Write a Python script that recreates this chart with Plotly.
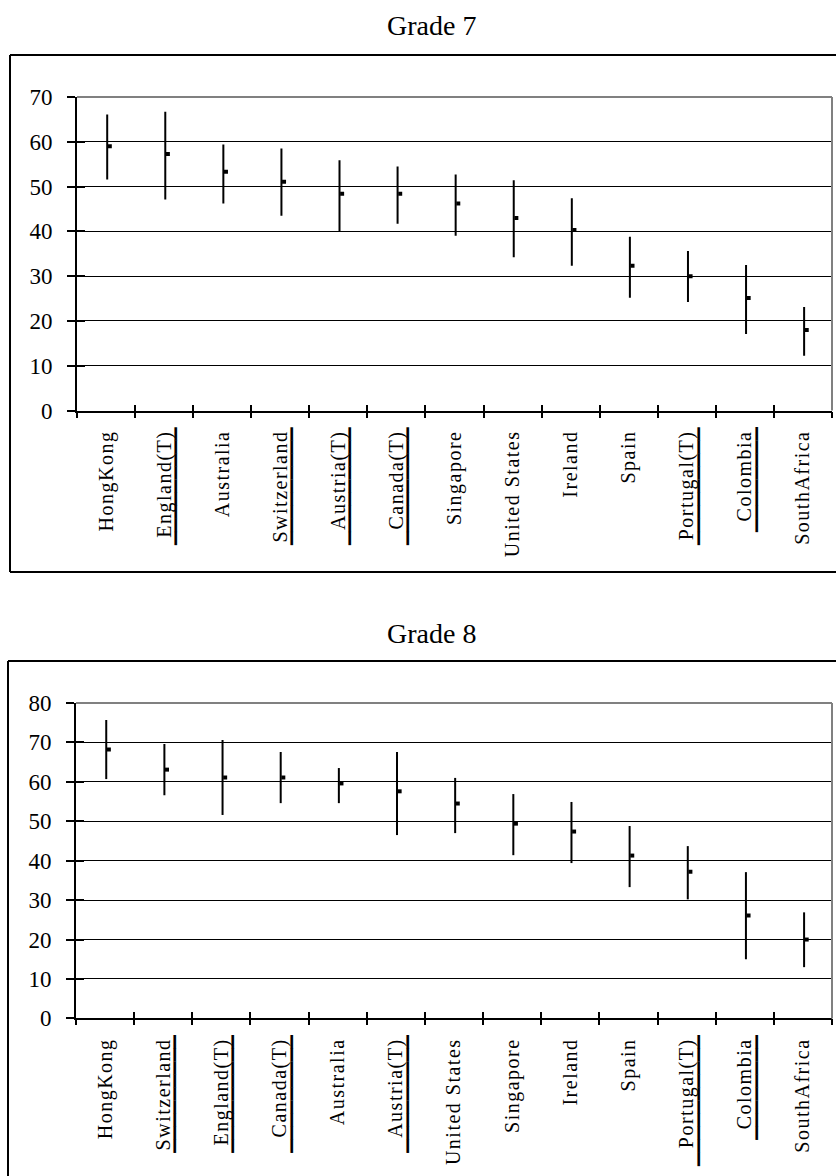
import plotly.graph_objects as go

# ---------------- data ----------------
g7_countries = ["HongKong", "England(T)", "Australia", "Switzerland", "Austria(T)", "Canada(T)",
                "Singapore", "United States", "Ireland", "Spain", "Portugal(T)", "Colombia", "SouthAfrica"]
g7_mean = [59.0, 57.3, 53.3, 51.1, 48.4, 48.4, 46.2, 43.0, 40.3, 32.3, 30.0, 25.1, 18.0]
g7_low = [51.6, 47.1, 46.2, 43.5, 40.0, 41.7, 39.0, 34.2, 32.3, 25.2, 24.2, 17.1, 12.2]
g7_high = [66.1, 66.7, 59.4, 58.5, 55.9, 54.5, 52.7, 51.4, 47.4, 38.8, 35.6, 32.5, 23.1]

g8_countries = ["HongKong", "Switzerland", "England(T)", "Canada(T)", "Australia", "Austria(T)",
                "United States", "Singapore", "Ireland", "Spain", "Portugal(T)", "Colombia", "SouthAfrica"]
g8_mean = [68.2, 63.1, 61.1, 61.1, 59.6, 57.6, 54.5, 49.4, 47.4, 41.3, 37.2, 26.1, 20.0]
g8_low = [60.7, 56.6, 51.6, 54.6, 54.6, 46.5, 47.0, 41.4, 39.4, 33.3, 30.2, 15.0, 13.0]
g8_high = [75.7, 69.6, 70.6, 67.6, 63.5, 67.6, 61.0, 56.9, 54.9, 48.8, 43.7, 37.1, 26.9]

underlined = ["England(T)", "Switzerland", "Austria(T)", "Canada(T)", "Portugal(T)", "Colombia"]

titles = ["Grade 7", "Grade 8"]
y_max = [70, 80]

FONT = "Liberation Serif"
W, H = 836, 1176

fig = go.Figure()


def label(c):
    return '<span style="letter-spacing:1.5px">' + c + '</span>'


def underline(c, panel):
    # a rule drawn under the (rotated) label, as a run of lower-block glyphs
    if c not in underlined:
        return " "
    n = 9
    if c == "Colombia":
        n = 8
    if c == "Portugal(T)" and panel == 1:
        n = 10
    return "\u2581" * n


panels = [
    dict(countries=g7_countries, mean=g7_mean, low=g7_low, high=g7_high,
         xa="x", ya="y", xov_out="x3", xov_in="x4", xov_u="x7", yov="y3",
         xdom=[77 / W, 832 / W], ydom=[1 - 410.5 / H, 1 - 97 / H],
         box=[10, 55, 572], title_y=25),
    dict(countries=g8_countries, mean=g8_mean, low=g8_low, high=g8_high,
         xa="x2", ya="y2", xov_out="x5", xov_in="x6", xov_u="x8", yov="y4",
         xdom=[76 / W, 832 / W], ydom=[1 - 1018.4 / H, 1 - 703 / H],
         box=[8, 661, 1220], title_y=633),
]

layout = dict(width=W, height=H, autosize=False, margin=dict(l=0, r=0, t=0, b=0, pad=0),
              paper_bgcolor="white", plot_bgcolor="white", showlegend=False,
              shapes=[], annotations=[])

for k, p in enumerate(panels):
    n = len(p["countries"])
    idx = list(range(n))
    # range lines
    lx, ly = [], []
    for i in idx:
        lx += [i + 0.02, i + 0.02, None]
        ly += [p["low"][i], p["high"][i], None]
    fig.add_trace(go.Scatter(x=lx, y=ly, mode="lines", line=dict(color="black", width=2),
                             xaxis=p["xa"], yaxis=p["ya"], hoverinfo="skip"))
    fig.add_trace(go.Scatter(x=[i + 0.065 for i in idx], y=p["mean"], mode="markers",
                             marker=dict(symbol="square", size=4, color="black", line=dict(width=0)),
                             xaxis=p["xa"], yaxis=p["ya"]))
    # dummy traces for overlay axes
    for ov in (p["xov_out"], p["xov_in"], p["xov_u"]):
        fig.add_trace(go.Scatter(x=[None], y=[None], xaxis=ov, yaxis=p["ya"], hoverinfo="skip"))
    fig.add_trace(go.Scatter(x=[None], y=[None], xaxis=p["xa"], yaxis=p["yov"], hoverinfo="skip"))

    xname = "xaxis" + p["xa"][1:]
    yname = "yaxis" + p["ya"][1:]
    bounds = [i - 0.5 for i in range(n + 1)]
    yt = list(range(0, y_max[k] + 1, 10))
    common_x = dict(range=[-0.5, n - 0.5], anchor=p["ya"], automargin=False, fixedrange=True,
                    showgrid=False, zeroline=False)
    layout[xname] = dict(domain=p["xdom"], **common_x,
                         tickmode="array", tickvals=idx, ticktext=[label(c) for c in p["countries"]],
                         tickangle=-90, ticks="", showline=True, linecolor="black", linewidth=2,
                         tickfont=dict(family=FONT, size=20, color="black"),
                         ticklabelstandoff=10)
    # underline rules for flagged countries
    layout["xaxis" + p["xov_u"][1:]] = dict(overlaying=p["xa"], **common_x,
                                            tickmode="array", tickvals=[i + 0.06 for i in idx],
                                            ticktext=[underline(c, k) for c in p["countries"]],
                                            tickangle=-90, ticks="", showline=True,
                                            linecolor="black", linewidth=2,
                                            tickfont=dict(family="DejaVu Sans", size=17, color="black"),
                                            ticklabelstandoff=8)
    layout[yname] = dict(domain=p["ydom"], range=[0, y_max[k]], anchor=p["xa"], automargin=False,
                         tickmode="array", tickvals=yt, ticks="outside", ticklen=8, tickwidth=2,
                         tickcolor="black", showline=True, linecolor="black", linewidth=2,
                         showgrid=True, gridcolor="black", gridwidth=1, zeroline=False,
                         tickfont=dict(family=FONT, size=23, color="black"),
                         ticklabelstandoff=10, fixedrange=True)
    for ov, direction in [(p["xov_out"], "outside"), (p["xov_in"], "inside")]:
        layout["xaxis" + ov[1:]] = dict(overlaying=p["xa"], **common_x,
                                        tickmode="array", tickvals=bounds, ticks=direction,
                                        ticklen=6, tickwidth=2, tickcolor="black",
                                        showticklabels=False, showline=False)
    layout["yaxis" + p["yov"][1:]] = dict(overlaying=p["ya"], anchor=p["xa"], range=[0, y_max[k]],
                                          automargin=False,
                                          tickmode="array", tickvals=yt, ticks="inside",
                                          ticklen=8, tickwidth=2, tickcolor="black",
                                          showticklabels=False, showgrid=False, zeroline=False,
                                          showline=False, fixedrange=True)
    # gray top and right frame of plot area
    xd, yd = p["xa"] + " domain", p["ya"] + " domain"
    layout["shapes"].append(dict(type="line", xref=xd, yref=yd, x0=0, x1=1, y0=1, y1=1,
                                 line=dict(color="#808080", width=2), layer="above"))
    layout["shapes"].append(dict(type="line", xref=xd, yref=yd, x0=1, x1=1, y0=0, y1=1,
                                 line=dict(color="#808080", width=2), layer="above"))
    # outer chart box (open on the right, running off the page)
    bx0, by0, by1 = p["box"]
    for seg in [(bx0, by0, 1000, by0), (bx0, by0, bx0, by1), (bx0, by1, 1000, by1)]:
        layout["shapes"].append(dict(type="line", xref="paper", yref="paper",
                                     x0=seg[0] / W, y0=1 - seg[1] / H, x1=seg[2] / W, y1=1 - seg[3] / H,
                                     line=dict(color="black", width=2)))
    layout["annotations"].append(dict(text=titles[k], xref="paper", yref="paper",
                                      x=431 / W, y=1 - p["title_y"] / H, xanchor="center",
                                      yanchor="middle", showarrow=False,
                                      font=dict(family=FONT, size=28, color="black")))

fig.update_layout(**layout)
fig.write_html("out.html")
